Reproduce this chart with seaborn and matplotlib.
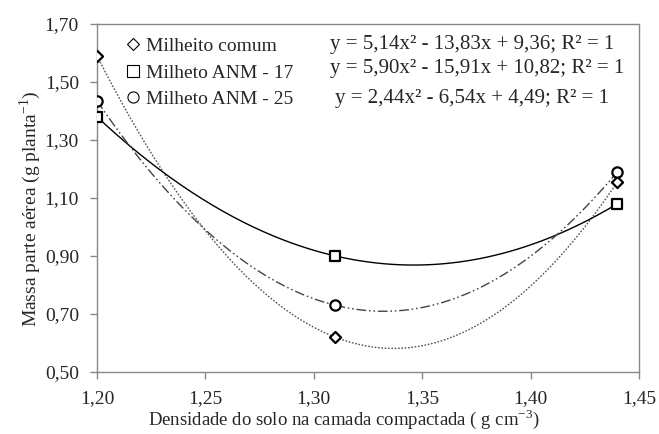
import numpy as np
import pandas as pd
import matplotlib
matplotlib.use("Agg")
import matplotlib.pyplot as plt
import seaborn as sns
from matplotlib.lines import Line2D

# ---- data ----
densidade = [1.20, 1.31, 1.44]
milheito_comum = [1.59, 0.62, 1.155]
milheto_anm17 = [1.38, 0.90, 1.08]
milheto_anm25 = [1.435, 0.73, 1.19]
series_names = ["Milheito comum", "Milheto ANM - 17", "Milheto ANM - 25"]
equations = ["y = 5,14x² - 13,83x + 9,36; R² = 1",
             "y = 5,90x² - 15,91x + 10,82; R² = 1",
             "y = 2,44x² - 6,54x + 4,49; R² = 1"]
x_ticks = [1.20, 1.25, 1.30, 1.35, 1.40, 1.45]
x_ticklabels = ["1,20", "1,25", "1,30", "1,35", "1,40", "1,45"]
y_ticks = [0.50, 0.70, 0.90, 1.10, 1.30, 1.50, 1.70]
y_ticklabels = ["0,50", "0,70", "0,90", "1,10", "1,30", "1,50", "1,70"]

sns.set_theme(style="white")
plt.rcParams["font.family"] = ["Liberation Serif", "DejaVu Serif"]
plt.rcParams["mathtext.fontset"] = "custom"
plt.rcParams["mathtext.rm"] = "Liberation Serif"

fig = plt.figure(figsize=(6.59, 4.34), dpi=100)
ax = fig.add_axes([97/659, 1 - 372/434, (639 - 97)/659, (372 - 24)/434])

values = [milheito_comum, milheto_anm17, milheto_anm25]
markers = ["D", "s", "o"]
msizes = [32, 60, 55]
styles = [(0, (1.2, 1.2)), "-", (0, (7, 2, 1.2, 2, 1.2, 2))]
colors = ["#555555", "#000000", "#444444"]

pts = pd.DataFrame({
    "x": densidade * 3,
    "y": milheito_comum + milheto_anm17 + milheto_anm25,
    "serie": sum([[n] * 3 for n in series_names], []),
})

for name, vals, ls, c in zip(series_names, values, styles, colors):
    coef = np.polyfit(densidade, vals, 2)
    xs = np.linspace(min(densidade), max(densidade), 200)
    curve = pd.DataFrame({"x": xs, "y": np.polyval(coef, xs)})
    sns.lineplot(data=curve, x="x", y="y", ax=ax, color=c, linewidth=1.0,
                 linestyle=ls, legend=False)

for name, m, s in zip(series_names, markers, msizes):
    sub = pts[pts["serie"] == name]
    sns.scatterplot(data=sub, x="x", y="y", ax=ax, marker=m, s=s,
                    facecolor="white", edgecolor="black", linewidth=1.6,
                    zorder=5, legend=False)

ax.set_xlim(1.20, 1.45)
ax.set_ylim(0.50, 1.70)
ax.set_xticks(x_ticks)
ax.set_xticklabels(x_ticklabels)
ax.set_yticks(y_ticks)
ax.set_yticklabels(y_ticklabels)
ax.tick_params(axis="both", labelsize=14, direction="out", length=5,
               color="#888888", width=1, left=True, bottom=True)
ax.tick_params(axis="x", pad=8)
ax.tick_params(axis="y", pad=8)
for sp in ax.spines.values():
    sp.set_color("#888888")
    sp.set_linewidth(1)

ax.set_xlabel("Densidade do solo na camada compactada ( g cm$^{\\mathregular{-3}}$)",
              fontsize=13.5)
ax.xaxis.set_label_coords(0.455, -0.1)
ax.set_ylabel("Massa parte aérea (g planta$^{\\mathregular{-1}}$)", fontsize=14)
ax.yaxis.set_label_coords(-0.1, 0.47)

handles = [Line2D([], [], marker=m, linestyle="none", markersize=ms,
                  markerfacecolor="white", markeredgecolor="black",
                  markeredgewidth=0.8)
           for m, ms in zip(markers, [6, 8, 8])]
ax.legend(handles, series_names, loc="upper left",
          bbox_to_anchor=(0.03, 1.0), frameon=False, fontsize=14,
          handlelength=0.6, handletextpad=0.4, labelspacing=0.45,
          borderaxespad=0.3)

eq_pos = [(330, 45), (330, 68), (335, 98)]
for eq, (px, py) in zip(equations, eq_pos):
    fig.text(px/659, 1 - py/434, eq, fontsize=15, va="center", ha="left")

fig.savefig("out.png", dpi=100)
